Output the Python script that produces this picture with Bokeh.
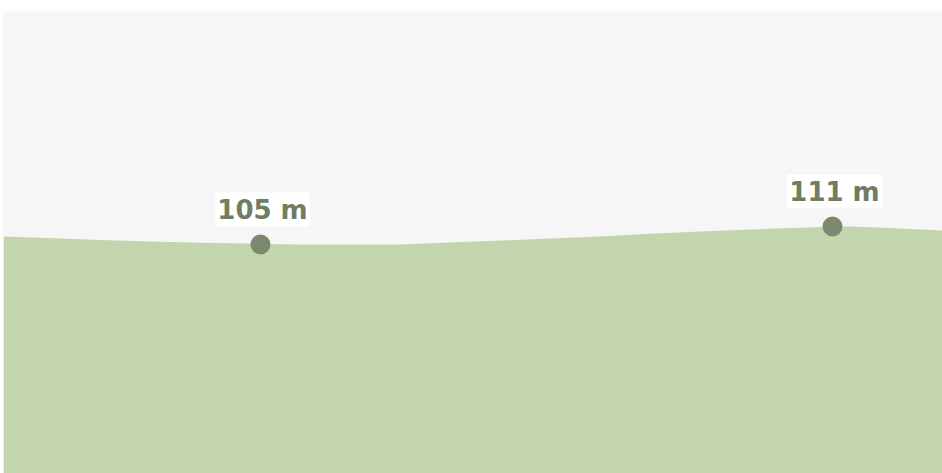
from bokeh.plotting import figure
from bokeh.models import Label, Range1d
from bokeh.embed import file_html
from bokeh.resources import INLINE

# Elevation profile (distance in km, elevation in m)
distance = [0.00, 0.50, 0.97, 1.47, 1.97, 2.57, 2.97, 3.47, 3.97, 4.47, 4.97, 5.47, 5.97, 6.47, 6.97, 7.47, 7.97, 8.29, 8.47, 8.97, 9.39]
elevation = [107.7, 107.1, 106.5, 106.0, 105.6, 105.2, 105.0, 105.0, 105.0, 105.7, 106.3, 107.0, 107.7, 108.6, 109.3, 110.0, 110.6, 111.0, 111.0, 110.3, 109.7]

# Marked points
mark_distance = [2.57, 8.29]
mark_elevation = [105, 111]
mark_labels = ["105 m", "111 m"]

p = figure(width=939, height=462, output_backend="svg", toolbar_location=None,
           x_range=Range1d(0, 9.39), y_range=Range1d(28.67, 182.67),
           min_border=0, background_fill_color="#f6f6f6", border_fill_color="#f6f6f6",
           styles={"margin-left": "3px", "margin-top": "11px",
                   "margin-bottom": "-11px", "margin-right": "-3px"})
p.axis.visible = False
p.grid.visible = False
p.outline_line_color = None

p.varea(x=distance, y1=0, y2=elevation, fill_color="#c2d5ad")
p.scatter(x=mark_distance, y=mark_elevation, size=20, fill_color="#7b8a6e", line_color=None)

for d, e, t in zip(mark_distance, mark_elevation, mark_labels):
    p.add_layout(Label(x=d, y=e, text=t, x_offset=2, y_offset=18,
                       text_align="center", text_baseline="bottom",
                       text_font="DejaVu Sans", text_font_style="bold", text_font_size="26px",
                       text_color="#6e7d63", background_fill_color="white",
                       padding=2))

open("out.html", "w").write(file_html(p, INLINE))
